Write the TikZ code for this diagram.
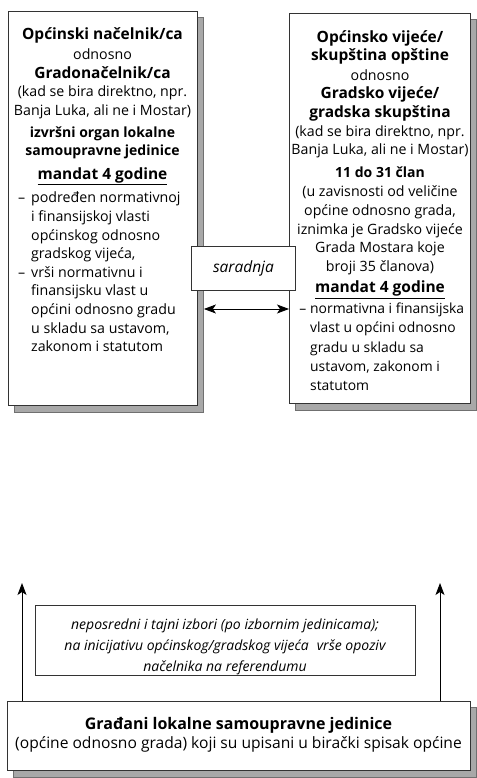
\documentclass[tikz,border=0pt]{standalone}
\usepackage{fontspec}
\setmainfont{Open Sans}
\usetikzlibrary{arrows.meta}
\definecolor{shadowfill}{HTML}{A8A8A8}
\definecolor{shadowline}{HTML}{707070}
\definecolor{boxline}{HTML}{333333}
\tikzset{
  boxnode/.style={draw=boxline, line width=0.9pt, fill=white, inner sep=0pt, anchor=north west},
  shadownode/.style={draw=shadowline, line width=0.9pt, fill=shadowfill, inner sep=0pt, anchor=north west},
  bodytext/.style={inner sep=0pt, font=\fontsize{14.2}{18.6}\selectfont},
  arr/.style={line width=0.9pt, -{Stealth[length=12pt,width=9pt,inset=3pt]}},
  dblarr/.style={line width=0.9pt, {Stealth[length=12pt,width=9pt,inset=3pt]}-{Stealth[length=12pt,width=9pt,inset=3pt]}}
}
\newcommand{\bigb}{\bfseries\fontsize{15.5}{18.6}\selectfont}
\newcommand{\midb}{\bfseries\fontsize{14}{18.6}\selectfont}
\newcommand{\mandat}{\bfseries\fontsize{15.5}{18.6}\selectfont}
\newcommand{\dsh}{\llap{–\hspace{6pt}}}
\newcommand{\dshr}{\llap{–\hspace{4pt}}}
\begin{document}
\begin{tikzpicture}[x=1pt,y=-1pt]
\useasboundingbox (0,0) rectangle (476,778);
% shadows
\node[shadownode, minimum width=189pt, minimum height=395pt] (Ls) at (14,17) {};
\node[shadownode, minimum width=181pt, minimum height=391pt] (Rs) at (295,19) {};
\node[shadownode, minimum width=463pt, minimum height=70pt] (Bs) at (13,707) {};
% boxes
\node[boxnode, minimum width=189pt, minimum height=394pt] (L) at (8,11) {};
\node[boxnode, minimum width=181pt, minimum height=390pt] (R) at (289,13) {};
\node[boxnode, minimum width=463pt, minimum height=69pt] (B) at (7,701) {};
\node[boxnode, minimum width=380pt, minimum height=70pt] (M) at (35,605) {};

% left box text
\node[bodytext, anchor=north, align=center] (Lh) at (102.5,27) {%
{\bigb Općinski načelnik/ca}\\[2pt]
odnosno\\
{\bigb Gradonačelnik/ca}\\
(kad se bira direktno, npr.\\
Banja Luka, ali ne i Mostar)\\[3pt]
{\midb izvršni organ lokalne}\\
{\midb samoupravne jedinice}\\[5pt]
{\mandat\underline{mandat 4 godine}}};
\node[bodytext, anchor=north west, align=left] (Lb) at (31,192) {%
\dsh podređen normativnoj\\
i finansijskoj vlasti\\
općinskog odnosno\\
gradskog vijeća,\\
\dsh vrši normativnu i\\
finansijsku vlast u\\
općini odnosno gradu\\
u skladu sa ustavom,\\
zakonom i statutom};

% right box text
\node[bodytext, anchor=north, align=center] (Rh) at (380,30) {%
{\bigb Općinsko vijeće/}\\
{\bigb skupština opštine}\\[1pt]
odnosno\\
{\bigb Gradsko vijeće/}\\
{\bigb gradska skupština}\\
(kad se bira direktno, npr.\\
Banja Luka, ali ne i Mostar)\\[4pt]
{\midb 11 do 31 član}\\[1pt]
(u zavisnosti od veličine\\
općine odnosno grada,\\
iznimka je Gradsko vijeće\\
Grada Mostara koje\\
broji 35 članova)\\[3pt]
{\mandat\underline{mandat 4 godine}}};
\node[bodytext, anchor=north west, align=left, font=\fontsize{13.9}{19.1}\selectfont] (Rb) at (310,303) {%
\dshr normativna i finansijska\\
vlast u općini odnosno\\
gradu u skladu sa\\
ustavom, zakonom i\\
statutom};

% saradnja
\coordinate (ay) at (0,309);
\draw[dblarr] (Ls.east |- ay) -- (R.west |- ay);
\node[boxnode, minimum width=104pt, minimum height=44pt] (S) at (191,246) {};
\node[bodytext, font=\itshape\fontsize{15.5}{18}\selectfont] (St) at (S.center) {saradnja};

% middle text
\node[bodytext, align=center, font=\itshape\fontsize{14}{21}\selectfont] (Mt) at (225,647) {%
neposredni i tajni izbori (po izbornim jedinicama);\\
na inicijativu općinskog/gradskog vijeća\hspace{8pt}vrše opoziv\\
načelnika na referendumu};

% bottom text
\node[bodytext, align=center] (Bt) at (238.5,735) {%
{\bfseries\fontsize{16}{21}\selectfont Građani lokalne samoupravne jedinice}\\
{\fontsize{15.6}{21}\selectfont (općine odnosno grada) koji su upisani u birački spisak općine}};

% vertical arrows
\coordinate (a1) at (22,583);
\coordinate (a2) at (440,583);
\draw[arr] (B.north -| a1) -- (a1);
\draw[arr] (B.north -| a2) -- (a2);
\end{tikzpicture}
\end{document}
